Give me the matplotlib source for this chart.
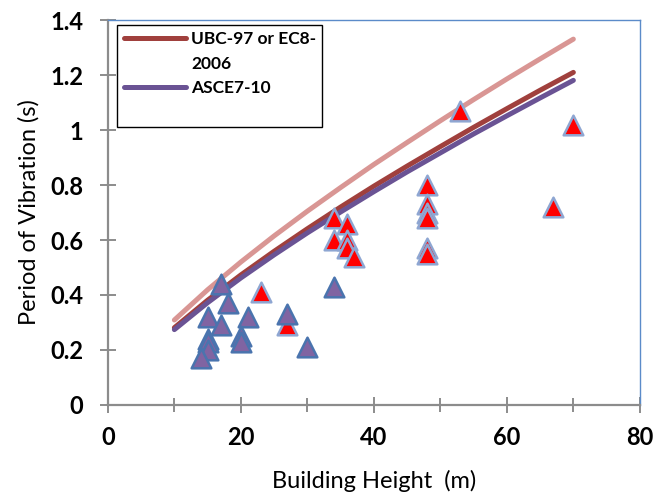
import matplotlib
matplotlib.use("Agg")
import matplotlib.pyplot as plt
from matplotlib.lines import Line2D

plt.rcParams['font.family'] = ['Lato', 'DejaVu Sans']

# code curves, every 5 m
curve_h = [10, 15, 20, 25, 30, 35, 40, 45, 50, 55, 60, 65, 70]
t_upper = [0.309, 0.419, 0.520, 0.615, 0.705, 0.791, 0.875, 0.955, 1.034, 1.111, 1.186, 1.259, 1.331]
t_ubc = [0.281, 0.381, 0.473, 0.559, 0.641, 0.720, 0.796, 0.869, 0.940, 1.010, 1.078, 1.145, 1.210]
t_asce = [0.274, 0.372, 0.462, 0.546, 0.626, 0.702, 0.776, 0.848, 0.917, 0.986, 1.052, 1.117, 1.181]

# measured buildings, group 1 (red)
red_h = [23, 27, 34, 36, 34, 36, 36, 37, 48, 48, 48, 48, 48, 48, 53, 67, 70]
red_t = [0.41, 0.29, 0.68, 0.66, 0.60, 0.60, 0.57, 0.54, 0.80, 0.73, 0.70, 0.68, 0.57, 0.55, 1.07, 0.72, 1.02]

# measured buildings, group 2 (purple)
pur_h = [17, 18, 15, 17, 21, 15, 15, 15, 14, 20, 20, 27, 30, 34]
pur_t = [0.44, 0.37, 0.32, 0.29, 0.32, 0.24, 0.23, 0.20, 0.17, 0.25, 0.23, 0.33, 0.21, 0.43]

x_ticks = [0, 20, 40, 60, 80]
x_minor = [10, 30, 50, 70]
y_ticks = [0, 0.2, 0.4, 0.6, 0.8, 1.0, 1.2, 1.4]
y_labels = ['0', '0.2', '0.4', '0.6', '0.8', '1', '1.2', '1.4']

fig = plt.figure(figsize=(6.7, 4.92), dpi=100)
ax = fig.add_axes([0.161, 0.177, 0.794, 0.782])

ax.plot(curve_h, t_upper, color='#D99694', lw=3.6, solid_capstyle='round', zorder=2)
ax.plot(curve_h, t_ubc, color='#A0403D', lw=3.6, solid_capstyle='round', zorder=2)
ax.plot(curve_h, t_asce, color='#6A5394', lw=3.6, solid_capstyle='round', zorder=2)

ax.scatter(red_h, red_t, marker='^', s=200, c='#FF0000', edgecolors='#8EA6D2', linewidths=1.8, zorder=3)
ax.scatter(pur_h, pur_t, marker='^', s=200, c='#8064A2', edgecolors='#4A74AE', linewidths=1.8, zorder=4)

ax.set_xlim(0, 80)
ax.set_ylim(0, 1.4)
ax.set_xticks(x_ticks, [str(v) for v in x_ticks], fontweight='bold', fontsize=17)
ax.set_xticks(x_minor, minor=True)
ax.set_yticks(y_ticks, y_labels, fontweight='bold', fontsize=17)

for s in ['left', 'bottom']:
    ax.spines[s].set_color('#8C8C8C')
    ax.spines[s].set_linewidth(1.6)
for s in ['top', 'right']:
    ax.spines[s].set_color('#5B8BC9')
    ax.spines[s].set_linewidth(1.0)

ax.tick_params(which='major', direction='inout', length=11, width=1.4, color='#8C8C8C',
               top=False, right=False)
ax.tick_params(which='minor', direction='inout', length=10, width=1.4, color='#8C8C8C',
               top=False, right=False)
ax.tick_params(axis='x', pad=10)
ax.tick_params(axis='y', pad=12)

ax.set_xlabel('Building Height  (m)', fontsize=17, labelpad=15)
ax.set_ylabel('Period of Vibration (s)', fontsize=17, labelpad=8)

blank = Line2D([], [], color='none')
handles = [Line2D([], [], color='#A0403D', lw=3.6, solid_capstyle='round'),
           blank,
           Line2D([], [], color='#6A5394', lw=3.6, solid_capstyle='round'),
           blank]
labels = ['UBC-97 or EC8-', '2006', 'ASCE7-10', ' ']
leg = ax.legend(handles, labels, loc='upper left', bbox_to_anchor=(0.018, 0.988),
                fancybox=False, edgecolor='black', framealpha=1,
                prop={'weight': 'bold', 'size': 12.5}, handlelength=3.6,
                handletextpad=0.3, borderaxespad=0, labelspacing=0.5,
                borderpad=0.35)
leg.get_frame().set_linewidth(1.0)

fig.savefig('out.png', dpi=100)
